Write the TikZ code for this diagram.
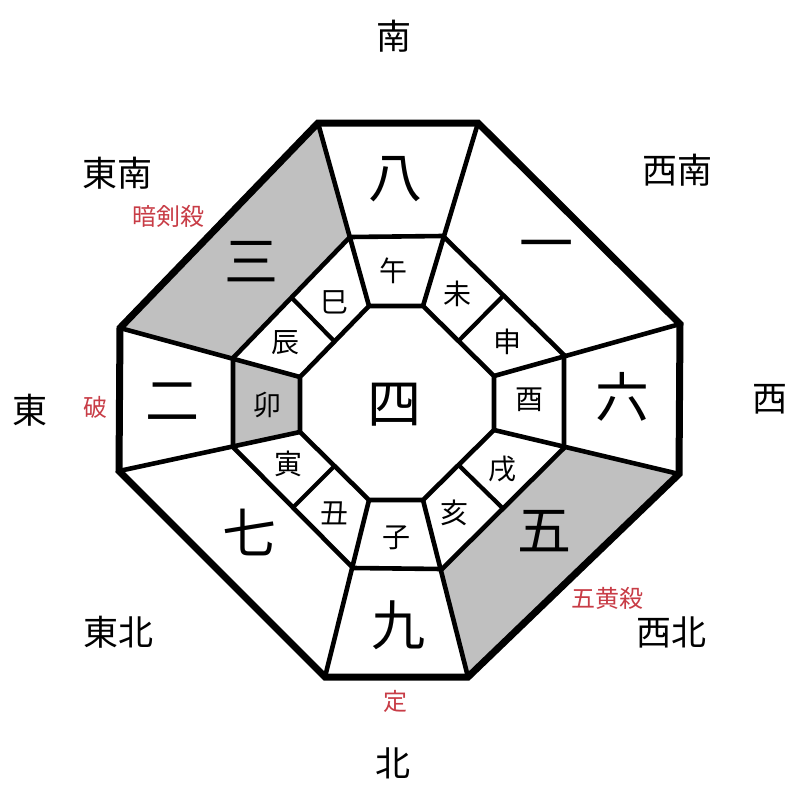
\documentclass[tikz,border=0pt]{standalone}
\usepackage{fontspec}
\setmainfont{Noto Sans CJK JP}
\usetikzlibrary{calc}
\definecolor{cellgray}{RGB}{192,192,192}
\definecolor{redlab}{RGB}{200,60,70}
\tikzset{
  outerline/.style={line width=7pt, line join=miter},
  innerline/.style={line width=4.6pt, line join=miter},
  divline/.style={line width=4.2pt},
  grayarea/.style={fill=cellgray},
  dirlab/.style={font=\fontsize{35}{35}\selectfont, inner sep=0pt},
  redtag/.style={font=\fontsize{24}{24}\selectfont, text=redlab, inner sep=0pt},
  numlab/.style={font=\fontsize{54}{54}\selectfont, inner sep=0pt},
  branch/.style={font=\fontsize{28}{28}\selectfont, inner sep=0pt},
}
\begin{document}
\begin{tikzpicture}[x=1pt,y=-1pt]
\useasboundingbox (0,0) rectangle (800,800);
\fill[white] (0,0) rectangle (800,800);
% outer
\coordinate (O1) at (318,123);
\coordinate (O2) at (478,123);
\coordinate (O3) at (680,324);
\coordinate (O4) at (679,474);
\coordinate (O5) at (468,677);
\coordinate (O6) at (325,677);
\coordinate (O7) at (119,471);
\coordinate (O8) at (120,328);
% middle
\coordinate (M1) at (350,237);
\coordinate (M2) at (443,236);
\coordinate (M3) at (564,355);
\coordinate (M4) at (564,448);
\coordinate (M5) at (442,569);
\coordinate (M6) at (353,568);
\coordinate (M7) at (233,447);
\coordinate (M8) at (233,358);
% inner
\coordinate (I1) at (369,306);
\coordinate (I2) at (423,306);
\coordinate (I3) at (494,376);
\coordinate (I4) at (494,430);
\coordinate (I5) at (423,500);
\coordinate (I6) at (369,500);
\coordinate (I7) at (300,432);
\coordinate (I8) at (300,377);
% shaded regions
\path[grayarea] (O8) -- (O1) -- (M1) -- (M8) -- cycle;
\path[grayarea] (O4) -- (O5) -- (M5) -- (M4) -- cycle;
\path[grayarea] (M7) -- (M8) -- (I8) -- (I7) -- cycle;
% spokes
\foreach \k in {1,...,8} {\draw[innerline] (O\k) -- (I\k);}
% dividers
\draw[divline] ($(M8)!0.5!(M1)$) -- ($(I8)!0.5!(I1)$);
\draw[divline] ($(M2)!0.5!(M3)$) -- ($(I2)!0.5!(I3)$);
\draw[divline] ($(M4)!0.5!(M5)$) -- ($(I4)!0.5!(I5)$);
\draw[divline] ($(M6)!0.5!(M7)$) -- ($(I6)!0.5!(I7)$);
% octagons
\draw[innerline] (M1) -- (M2) -- (M3) -- (M4) -- (M5) -- (M6) -- (M7) -- (M8) -- cycle;
\draw[innerline] (I1) -- (I2) -- (I3) -- (I4) -- (I5) -- (I6) -- (I7) -- (I8) -- cycle;
\draw[outerline] (O1) -- (O2) -- (O3) -- (O4) -- (O5) -- (O6) -- (O7) -- (O8) -- cycle;
% directions
\node[dirlab] (dS) at (394,36) {南};
\node[dirlab] (dSE) at (117,173) {東南};
\node[dirlab] (dSW) at (677,170) {西南};
\node[dirlab] (dE) at (30,410) {東};
\node[dirlab] (dW) at (770,399) {西};
\node[dirlab] (dNE) at (118,632) {東北};
\node[dirlab] (dNW) at (671,632) {西北};
\node[dirlab] (dN) at (393,763) {北};
% red tags
\node[redtag] (tA) at (168,216) {暗剣殺};
\node[redtag] (tB) at (95,407) {破};
\node[redtag] (tC) at (607,598) {五黄殺};
\node[redtag] (tD) at (395,701) {定};
% numbers
\node[numlab] (n8) at (395,179) {八};
\node[numlab] (n1) at (546,252) {一};
\node[numlab] (n6) at (622,397) {六};
\node[numlab] (n5) at (544,531) {五};
\node[numlab] (n9) at (398,625) {九};
\node[numlab] (n7) at (249,532) {七};
\node[numlab] (n2) at (172,402) {二};
\node[numlab] (n3) at (251,262) {三};
\node[numlab] (n4) at (394,405) {四};
% branches
\node[branch] (bWu) at (393,271) {午};
\node[branch] (bWei) at (457,294) {未};
\node[branch] (bShen) at (507,342) {申};
\node[branch] (bYou) at (529,400) {酉};
\node[branch] (bXu) at (502,469) {戌};
\node[branch] (bHai) at (454,513) {亥};
\node[branch] (bZi) at (396,538) {子};
\node[branch] (bChou) at (334,513) {丑};
\node[branch] (bYin) at (288,464) {寅};
\node[branch] (bMao) at (267,405) {卯};
\node[branch] (bChen) at (285,343) {辰};
\node[branch] (bSi) at (334,302) {巳};
\end{tikzpicture}
\end{document}
